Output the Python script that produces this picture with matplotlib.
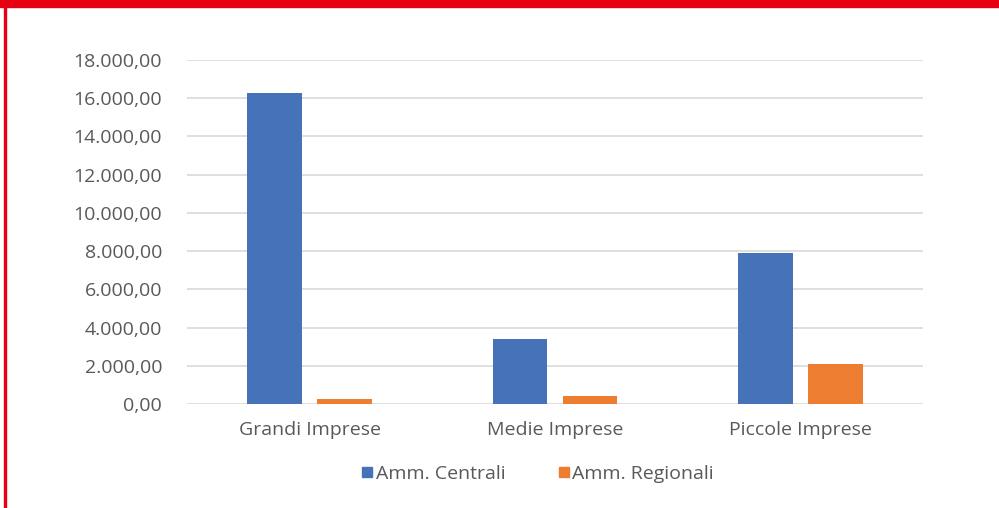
import matplotlib
matplotlib.use("Agg")
import matplotlib.pyplot as plt
from matplotlib.patches import Rectangle
from matplotlib.lines import Line2D
from matplotlib.ticker import FuncFormatter
import numpy as np

categories = ["Grandi Imprese", "Medie Imprese", "Piccole Imprese"]
series_names = ["Amm. Centrali", "Amm. Regionali"]
amm_centrali = [16270, 3385, 7885]
amm_regionali = [246, 403, 2077]
y_ticks = [0, 2000, 4000, 6000, 8000, 10000, 12000, 14000, 16000, 18000]

BLUE = "#4672BA"
ORANGE = "#ED7D31"
TEXT = "#595959"
GRID = "#D9D9D9"
RED = "#E60012"

plt.rcParams['font.family'] = ['Open Sans', 'DejaVu Sans']

fig = plt.figure(figsize=(9.99, 5.08), dpi=100)
ax = fig.add_axes([187/999, 1-404/508, (923-187)/999, (404-60)/508])

x = np.arange(len(categories))
w = 0.224
off = 0.1426
ax.bar(x - off, amm_centrali, width=w, color=BLUE, zorder=3)
ax.bar(x + off, amm_regionali, width=w, color=ORANGE, zorder=3)

ax.set_xlim(-0.5, len(categories) - 0.5)
ax.set_ylim(0, 18000)
ax.set_yticks(y_ticks)

def fmt(v, pos):
    s = f"{v:,.2f}"
    return s.replace(",", "X").replace(".", ",").replace("X", ".")

ax.yaxis.set_major_formatter(FuncFormatter(fmt))
ax.set_xticks(x)
ax.set_xticklabels(categories)
ax.tick_params(axis='y', length=0, pad=18, labelsize=14, labelcolor=TEXT)
ax.tick_params(axis='x', length=0, pad=12, labelsize=14, labelcolor=TEXT)
ax.grid(axis='y', color=GRID, linewidth=1.2, zorder=0)
for s in ax.spines.values():
    s.set_visible(False)

handles = [Line2D([], [], marker='s', linestyle='none', markersize=7.5, color=c) for c in (BLUE, ORANGE)]
leg = fig.legend(handles, series_names, loc='center', bbox_to_anchor=(0.537, 1-474/508), ncol=2,
                 frameon=False, fontsize=14, handletextpad=0.05, columnspacing=2.6, handlelength=0.8)
for t in leg.get_texts():
    t.set_color(TEXT)

fig.patches.append(Rectangle((0, 1-7/508), 1, 7/508, transform=fig.transFigure, color=RED, zorder=10))
fig.patches.append(Rectangle((4/999, 0), 2/999, 1, transform=fig.transFigure, color=RED, zorder=10))

fig.savefig("out.png", dpi=100)
